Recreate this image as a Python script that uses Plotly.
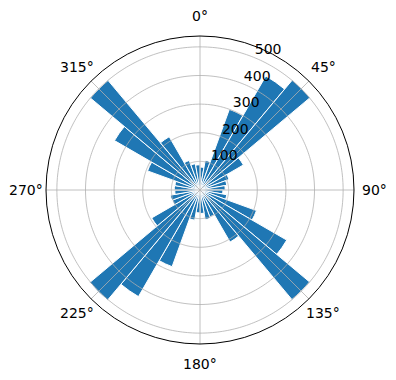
import numpy as np
import plotly.graph_objects as go

bin_centers = [5, 15, 25, 35, 45, 55, 65, 75, 85,
               95, 105, 115, 125, 135, 145, 155, 165, 175,
               185, 195, 205, 215, 225, 235, 245, 255, 265,
               275, 285, 295, 305, 315, 325, 335, 345, 355]
counts = [80, 105, 300, 460, 502, 175, 108, 95, 88,
          80, 95, 210, 350, 500, 210, 100, 105, 82,
          80, 107, 285, 430, 503, 195, 103, 105, 88,
          90, 89, 195, 345, 500, 215, 110, 93, 88]
angle_ticks = [0, 45, 90, 135, 180, 225, 270, 315]
angle_labels = [f"{a}°" for a in angle_ticks]
radial_ticks = [100, 200, 300, 400, 500]
r_max = 538
label_angle = 22.5
grid_color = "#b0b0b0"

fig = go.Figure()
fig.add_trace(go.Barpolar(
    theta=bin_centers, r=counts, width=10,
    marker=dict(color="#1f77b4", line=dict(color="white", width=1)),
    hoverinfo="skip",
))

# grid drawn above the bars, as in the reference
circle_theta = np.linspace(0, 360, 361)
for rv in radial_ticks:
    fig.add_trace(go.Scatterpolar(
        r=[rv] * len(circle_theta), theta=circle_theta, mode="lines",
        line=dict(color=grid_color, width=0.8), hoverinfo="skip",
    ))
for av in angle_ticks:
    fig.add_trace(go.Scatterpolar(
        r=[0, r_max], theta=[av, av], mode="lines",
        line=dict(color=grid_color, width=0.8), hoverinfo="skip",
    ))

# radial tick labels along the 22.5 deg direction
fig.add_trace(go.Scatterpolar(
    r=radial_ticks, theta=[label_angle] * len(radial_ticks),
    mode="text", text=[str(v) for v in radial_ticks],
    textposition="top right",
    textfont=dict(family="DejaVu Sans", size=14, color="black"),
    hoverinfo="skip",
))

# angular tick labels centred at a fixed distance outside the rim
label_radius = 0.5 * 174 / 154  # in paper units (polar fills the plot area)
annotations = []
for a, txt in zip(angle_ticks, angle_labels):
    rad = np.deg2rad(a)
    annotations.append(dict(
        x=0.5 + label_radius * np.sin(rad), y=0.5 + label_radius * np.cos(rad),
        xref="paper", yref="paper", text=txt, showarrow=False,
        xanchor="center", yanchor="middle",
        font=dict(family="DejaVu Sans", size=14, color="black"),
    ))

fig.update_layout(
    width=396, height=380,
    margin=dict(l=46, r=42, t=36, b=36),
    paper_bgcolor="white",
    showlegend=False,
    annotations=annotations,
    font=dict(family="DejaVu Sans", size=14, color="black"),
    polar=dict(
        bgcolor="white",
        domain=dict(x=[0, 1], y=[0, 1]),
        angularaxis=dict(
            rotation=90, direction="clockwise",
            tickmode="array", tickvals=angle_ticks,
            showticklabels=False, showgrid=False,
            showline=True, linecolor="black", linewidth=1,
            ticks="", layer="above traces",
        ),
        radialaxis=dict(
            range=[0, r_max], angle=90 - label_angle,
            showticklabels=False, showgrid=False,
            showline=False, ticks="",
        ),
    ),
)

fig.write_html("out.html")
